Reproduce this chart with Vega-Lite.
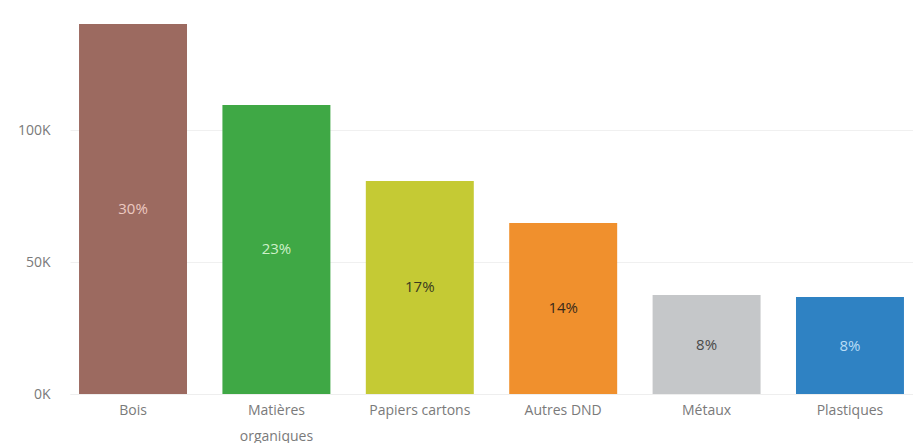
{
  "$schema": "https://vega.github.io/schema/vega-lite/v6.json",
  "width": 843,
  "height": 387,
  "padding": {"left": 5, "top": 7, "right": 0, "bottom": 0},
  "background": "white",
  "config": {
    "view": {"stroke": null},
    "font": "Open Sans",
    "axis": {"labelFont": "Open Sans", "labelColor": "#7a7a7a", "labelFontSize": 14}
  },
  "data": {
    "values": [
      {"categorie": "Bois", "tonnes": 140200, "part": "30%"},
      {"categorie": "Matières organiques", "tonnes": 109500, "part": "23%"},
      {"categorie": "Papiers cartons", "tonnes": 80700, "part": "17%"},
      {"categorie": "Autres DND", "tonnes": 64800, "part": "14%"},
      {"categorie": "Métaux", "tonnes": 37500, "part": "8%"},
      {"categorie": "Plastiques", "tonnes": 36700, "part": "8%"}
    ]
  },
  "transform": [{"calculate": "datum.tonnes / 2", "as": "milieu"}],
  "encoding": {
    "x": {
      "field": "categorie",
      "type": "nominal",
      "sort": null,
      "scale": {"paddingInner": 0.247, "paddingOuter": 0.063},
      "axis": {
        "title": null,
        "labelAngle": 0,
        "ticks": false,
        "domain": true,
        "domainColor": "#eeeeee",
        "labelPadding": 9,
        "labelLineHeight": 26,
        "labelExpr": "datum.value == 'Matières organiques' ? ['Matières', 'organiques'] : datum.value"
      }
    }
  },
  "layer": [
    {
      "mark": {"type": "bar"},
      "encoding": {
        "y": {
          "field": "tonnes",
          "type": "quantitative",
          "scale": {"domain": [0, 146600], "nice": false},
          "axis": {
            "title": null,
            "values": [0, 50000, 100000],
            "labelExpr": "format(datum.value / 1000, 'd') + 'K'",
            "ticks": false,
            "domain": false,
            "gridColor": "#f0f0f0",
            "labelPadding": 20,
            "minExtent": 65,
            "maxExtent": 65
          }
        },
        "color": {
          "field": "categorie",
          "type": "nominal",
          "sort": null,
          "legend": null,
          "scale": {
            "domain": ["Bois", "Matières organiques", "Papiers cartons", "Autres DND", "Métaux", "Plastiques"],
            "range": ["#9c6a60", "#3fa845", "#c5ca34", "#f0902d", "#c5c7c9", "#2f82c3"]
          }
        }
      }
    },
    {
      "mark": {"type": "text", "fontSize": 15, "font": "Open Sans"},
      "encoding": {
        "y": {"field": "milieu", "type": "quantitative"},
        "text": {"field": "part"},
        "color": {
          "field": "categorie",
          "type": "nominal",
          "sort": null,
          "legend": null,
          "scale": {
            "domain": ["Bois", "Matières organiques", "Papiers cartons", "Autres DND", "Métaux", "Plastiques"],
            "range": ["#ecc9c1", "#cdf0c9", "#3a3a20", "#3a2a1a", "#4a4a4a", "#b9ddf6"]
          }
        }
      }
    }
  ],
  "resolve": {"scale": {"color": "independent"}}
}
